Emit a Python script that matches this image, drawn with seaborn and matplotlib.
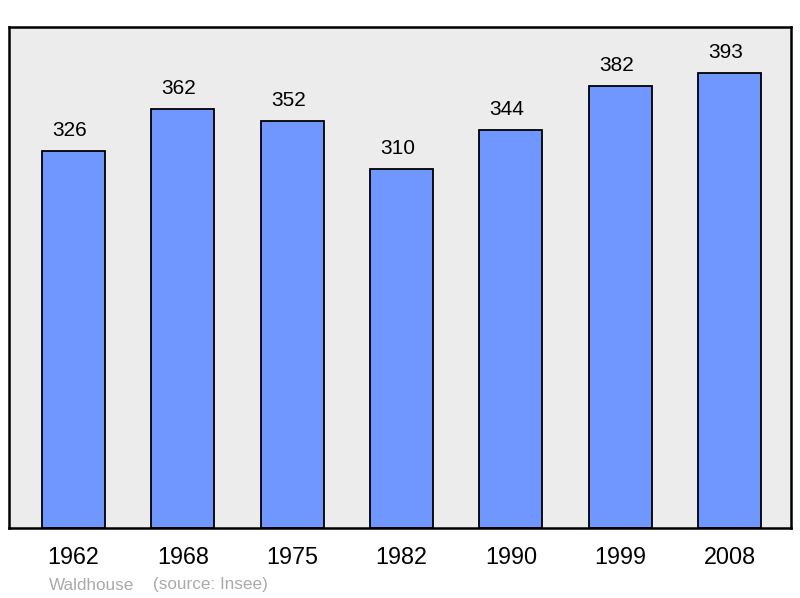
import matplotlib
matplotlib.use("Agg")
import matplotlib.pyplot as plt
import seaborn as sns
import pandas as pd

# Population data (Insee)
years = ["1962", "1968", "1975", "1982", "1990", "1999", "2008"]
population = [326, 362, 352, 310, 344, 382, 393]

town = "Waldhouse"
source = "(source: Insee)"

BAR_COLOR = "#7096ff"
BG_COLOR = "#ececec"

sns.set_theme(style="white")
plt.rcParams["font.family"] = ["Liberation Sans", "DejaVu Sans"]

df = pd.DataFrame({"year": years, "population": population})

fig = plt.figure(figsize=(8, 5.98), dpi=100)
ax = fig.add_axes([0.01125, 0.117, 0.9775, 0.838])
ax.set_facecolor(BG_COLOR)

sns.barplot(data=df, x="year", y="population", color=BAR_COLOR,
            width=0.576, edgecolor="black", linewidth=1.3,
            saturation=1, ax=ax)

# value labels above the bars (sit a little left of centre in the original)
for i, v in enumerate(population):
    ax.annotate(str(v), (i, v), xytext=(-4, 11), textcoords="offset pixels",
                ha="center", va="bottom", fontsize=15, color="black")

ax.set_ylim(0, 433)
ax.set_xlim(-0.59, 6.5625)
ax.set_yticks([])
ax.set_xlabel("")
ax.set_ylabel("")
ax.tick_params(axis="x", length=0, pad=13, labelsize=16.8, colors="black")

for s in ax.spines.values():
    s.set_visible(True)
    s.set_color("black")
    s.set_linewidth(1.8)

fig.text(49 / 800, 1 - 585 / 598, town, color="#aaaaaa", fontsize=12.3,
         ha="left", va="center")
fig.text(153 / 800, 1 - 585 / 598, source, color="#aaaaaa", fontsize=12.3,
         ha="left", va="center")

fig.savefig("out.png", dpi=100, facecolor="white")
